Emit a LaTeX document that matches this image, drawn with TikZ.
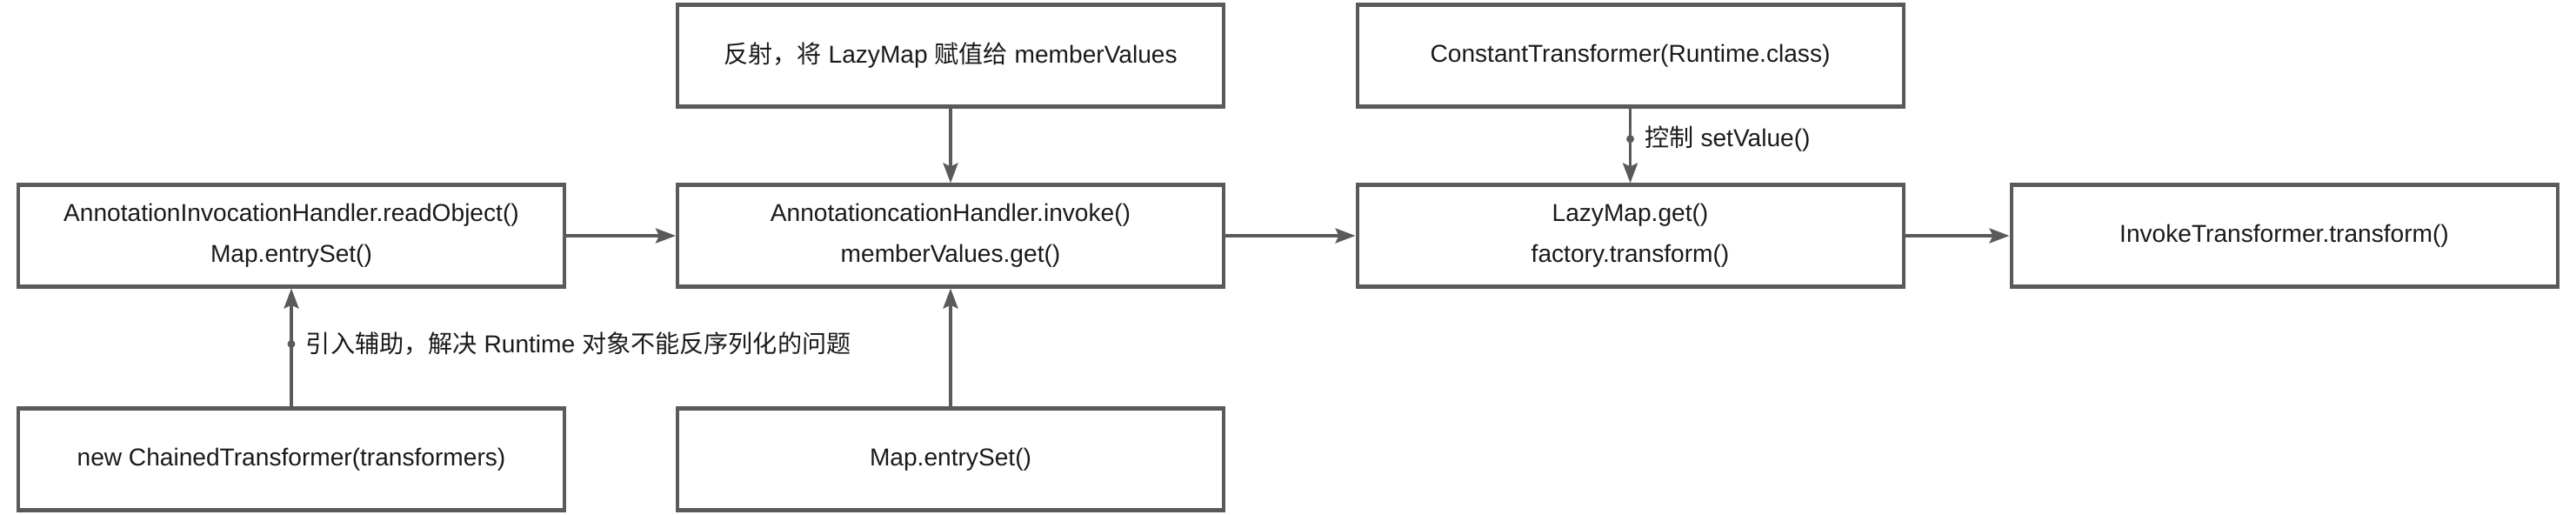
\documentclass[tikz,border=0pt]{standalone}
\usepackage{fontspec}
\setmainfont{Liberation Sans}
\newfontfamily\cjk{Noto Sans CJK SC}
\usetikzlibrary{arrows.meta,positioning}
\definecolor{cLine}{HTML}{5A5A5A}
\definecolor{cText}{HTML}{1A1A1A}

\begin{document}
\begin{tikzpicture}[
    box/.style={draw=cLine, line width=1.15pt, minimum width=6.28cm, minimum height=1.17cm,
        font=\fontsize{8}{13.3}\selectfont, text=cText, align=center, inner sep=2pt},
    arr/.style={draw=cLine, line width=1pt, -{Stealth[length=0.23cm, width=0.17cm, inset=0.04cm]}},
    dot/.style={circle, fill=cLine, inner sep=0pt, minimum size=0.09cm},
    elbl/.style={font=\fontsize{8}{10}\selectfont, text=cText, anchor=west, inner sep=0pt}
]
\useasboundingbox (0,0) rectangle (29.62,-5.92);
\def\ca{3.35}
\def\cb{10.93}
\def\cc{18.745}
\def\cd{26.265}

% top row
\node[box] (reflect) at (\cb, -0.64) {{\cjk 反射，将} LazyMap {\cjk 赋值给} memberValues};
\node[box] (constT) at (\cc, -0.64) {ConstantTransformer(Runtime.class)};

% middle row
\node[box] (readObj) at (\ca, -2.71) {AnnotationInvocationHandler.readObject()\\Map.entrySet()};
\node[box] (invoke) at (\cb, -2.71) {AnnotationcationHandler.invoke()\\memberValues.get()};
\node[box] (lazyGet) at (\cc, -2.71) {LazyMap.get()\\factory.transform()};
\node[box] (invT) at (\cd, -2.71) {InvokeTransformer.transform()};

% bottom row
\node[box] (chained) at (\ca, -5.28) {new ChainedTransformer(transformers)};
\node[box] (entrySet) at (\cb, -5.28) {Map.entrySet()};

\draw[arr] (readObj) -- (invoke);
\draw[arr] (invoke) -- (lazyGet);
\draw[arr] (lazyGet) -- (invT);
\draw[arr] (reflect) -- (invoke);
\draw[arr] (entrySet) -- (invoke);

\draw[arr] (chained) -- node[dot, pos=0.53] (dA) {} (readObj);
\node[elbl, right=0.1cm of dA] {{\cjk 引入辅助，解决} Runtime {\cjk 对象不能反序列化的问题}};

\draw[arr] (constT) -- node[dot, pos=0.41] (dB) {} (lazyGet);
\node[elbl, right=0.1cm of dB] {{\cjk 控制} setValue()};

\end{tikzpicture}
\end{document}
